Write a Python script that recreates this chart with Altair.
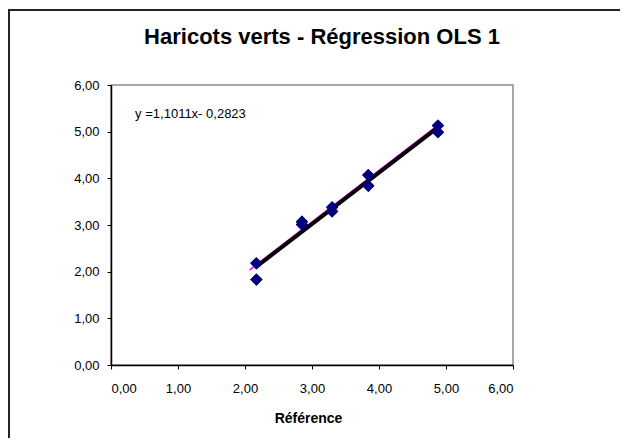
import altair as alt
import pandas as pd

# --- data ---
ref_x = [2.17, 2.17, 2.85, 2.85, 3.30, 3.30, 3.84, 3.84, 4.88, 4.88]
meas_y = [2.18, 1.83, 3.07, 3.01, 3.38, 3.29, 4.07, 3.84, 5.13, 4.99]

slope = 1.1011
intercept = -0.2823
equation = "y =1,1011x- 0,2823"
eq_pos_x = [0.36]
eq_pos_y = [5.38]

pink_x = [2.07, 4.88]
pink_y = [2.04, 5.14]

title = "Haricots verts - Régression OLS 1"
x_title = "Référence"
ticks = [0, 1, 2, 3, 4, 5, 6]

FONT = "Liberation Sans"

pts = pd.DataFrame({"x": ref_x, "y": meas_y})
xmin, xmax = min(ref_x), max(ref_x)
reg = pd.DataFrame({"x": [xmin, xmax],
                    "y": [slope * xmin + intercept, slope * xmax + intercept]})
pink = pd.DataFrame({"x": pink_x, "y": pink_y})
eq = pd.DataFrame({"x": eq_pos_x, "y": eq_pos_y, "t": [equation]})

lab = "replace(format(datum.value, '.2f'), '.', ',')"

xscale = alt.Scale(domain=[0, 6], nice=False, zero=False)
yscale = alt.Scale(domain=[0, 6], nice=False, zero=False)

xaxis = alt.Axis(values=ticks, labelExpr=lab, title=x_title, grid=False,
                 tickSize=4, labelPadding=13, labelFontSize=13,
                 titleFontSize=14, titleFontWeight="bold",
                 titleBaseline="middle", titleY=53, titleX=197)
yaxis = alt.Axis(values=ticks, labelExpr=lab, title=None, grid=False,
                 tickSize=4, labelPadding=8, labelFontSize=13)

points = alt.Chart(pts).mark_point(
    shape="diamond", filled=True, size=150, color="#000080", opacity=1
).encode(
    x=alt.X("x:Q", scale=xscale, axis=xaxis),
    y=alt.Y("y:Q", scale=yscale, axis=yaxis),
)

pink_line = alt.Chart(pink).mark_line(color="#ff00ff", strokeWidth=1.5).encode(
    x=alt.X("x:Q", scale=xscale), y=alt.Y("y:Q", scale=yscale))

reg_line = alt.Chart(reg).mark_line(color="#000000", strokeWidth=4).encode(
    x=alt.X("x:Q", scale=xscale), y=alt.Y("y:Q", scale=yscale))

eq_text = alt.Chart(eq).mark_text(
    align="left", baseline="middle", fontSize=13, font=FONT, color="#000000"
).encode(x=alt.X("x:Q", scale=xscale), y=alt.Y("y:Q", scale=yscale), text="t:N")

frame = alt.Chart(pd.DataFrame({"a": [0]})).mark_rect(
    fillOpacity=0, stroke="#222222", strokeWidth=2
).encode(x=alt.value(-102), y=alt.value(-75), x2=alt.value(800), y2=alt.value(700))

chart = alt.layer(points, pink_line, reg_line, points, eq_text, frame).properties(
    width=402, height=280,
    autosize=alt.AutoSizeParams(type="none"),
    padding={"left": 103, "top": 77, "right": 107, "bottom": 73},
    title=alt.TitleParams(title, fontSize=22, fontWeight="bold", font=FONT,
                          color="#000000", anchor="middle", frame="group",
                          baseline="alphabetic", offset=-57, dx=10),
).configure(font=FONT, background="white").configure_view(
    stroke="#8c8c8c", strokeWidth=1.5
).configure_axis(
    domainColor="#000000", tickColor="#000000", labelColor="#000000",
    titleColor="#000000", labelFont=FONT, titleFont=FONT, domainWidth=1.5
)

chart.save("out.html", embed_options={"renderer": "svg", "actions": False})
